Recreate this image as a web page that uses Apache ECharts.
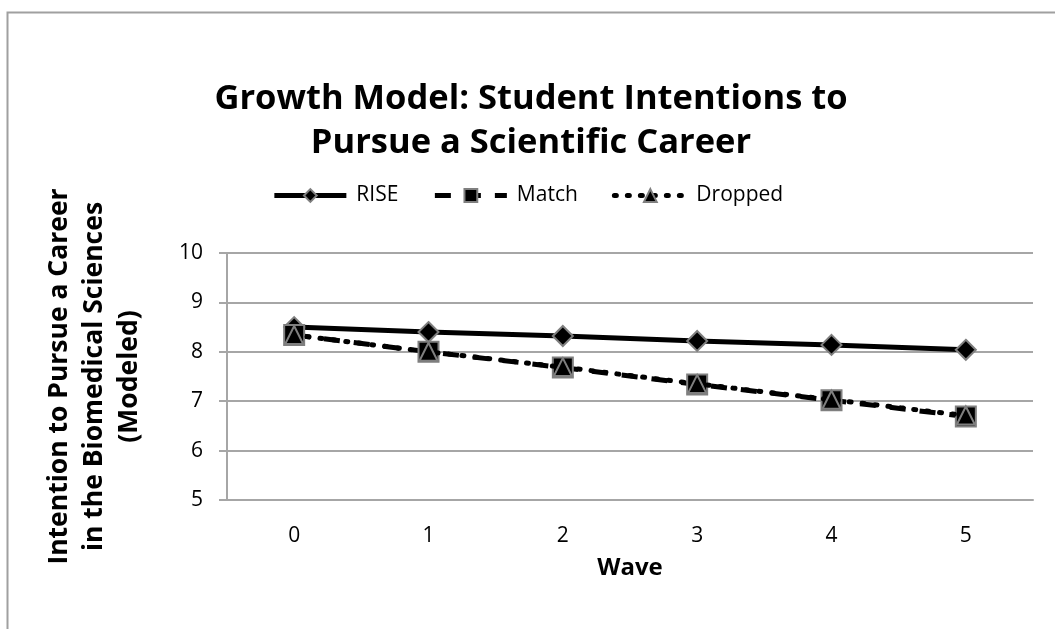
<!DOCTYPE html>
<html><head><meta charset="utf-8">
<script src="https://cdn.jsdelivr.net/npm/echarts@6/dist/echarts.min.js"></script>
<style>html,body{margin:0;padding:0;background:#fff}#c{width:1055px;height:629px}</style>
</head><body><div id="c"></div>
<script>
const waves = ['0','1','2','3','4','5'];
const rise = [8.50, 8.40, 8.32, 8.22, 8.14, 8.04];
const match = [8.34, 8.00, 7.68, 7.34, 7.02, 6.69];
const dropped = [8.34, 8.00, 7.69, 7.35, 7.03, 6.71];
const yTicks = [5, 6, 7, 8, 9, 10];

const FONT = '"Open Sans", "Noto Sans", sans-serif';
const chart = echarts.init(document.getElementById('c'));
const markerBorder = { color: '#000', borderColor: '#7f7f7f', borderWidth: 2 };
chart.setOption({
  animation: false,
  backgroundColor: '#fff',
  graphic: [{
    type: 'rect', left: 5, top: 10, shape: { width: 1100, height: 700 },
    style: { fill: 'none', stroke: '#a0a0a0', lineWidth: 2 }, silent: true
  }],
  title: {
    text: 'Growth Model: Student Intentions to\nPursue a Scientific Career',
    left: 526, top: 72, textAlign: 'center',
    textStyle: { fontFamily: FONT, fontWeight: 'bold', fontSize: 34.5, lineHeight: 44, color: '#000' }
  },
  legend: {
    top: 180, left: 'center', itemGap: 34, itemWidth: 72, itemHeight: 16,
    textStyle: { fontFamily: FONT, fontSize: 21, color: '#000', padding: [0, 0, 0, 5] },
    lineStyle: { width: 5 },
    data: ['RISE', 'Match', 'Dropped']
  },
  grid: { left: 227, right: 22, top: 253, bottom: 129, containLabel: false, outerBoundsMode: 'none' },
  xAxis: {
    type: 'category', data: waves, boundaryGap: true,
    name: 'Wave', nameLocation: 'middle', nameGap: 56,
    nameTextStyle: { fontFamily: FONT, fontWeight: 'bold', fontSize: 24, color: '#000' },
    axisLine: { lineStyle: { color: '#a6a6a6', width: 2 } },
    axisTick: { show: false },
    axisLabel: { fontFamily: FONT, fontSize: 21, color: '#000', margin: 26 }
  },
  yAxis: {
    type: 'value', min: 5, max: 10, interval: 1,
    name: 'Intention to Pursue a Career\nin the Biomedical Sciences\n(Modeled)',
    nameLocation: 'middle', nameRotate: 90, nameGap: 80,
    nameTextStyle: { fontFamily: FONT, fontWeight: 'bold', fontSize: 26.5, lineHeight: 35, color: '#000' },
    axisLine: { show: true, lineStyle: { color: '#a6a6a6', width: 2 } },
    axisTick: { show: true, length: 8, lineStyle: { color: '#a6a6a6', width: 2 } },
    axisLabel: { fontFamily: FONT, fontSize: 21, color: '#000', margin: 24,
      formatter: v => yTicks.includes(v) ? String(v) : '' },
    splitLine: { lineStyle: { color: '#a6a6a6', width: 2 } }
  },
  series: [
    { name: 'RISE', type: 'line', data: rise, symbol: 'diamond', symbolSize: 20,
      lineStyle: { color: '#000', width: 5 }, itemStyle: markerBorder, z: 3 },
    { name: 'Match', type: 'line', data: match, symbol: 'rect', symbolSize: 20,
      lineStyle: { color: '#000', width: 5, type: [16, 14] }, itemStyle: markerBorder, z: 4 },
    { name: 'Dropped', type: 'line', data: dropped, symbol: 'triangle', symbolSize: 18,
      lineStyle: { color: '#000', width: 5, type: [2, 11], cap: 'round' }, itemStyle: markerBorder, z: 5 }
  ]
});
</script></body></html>
